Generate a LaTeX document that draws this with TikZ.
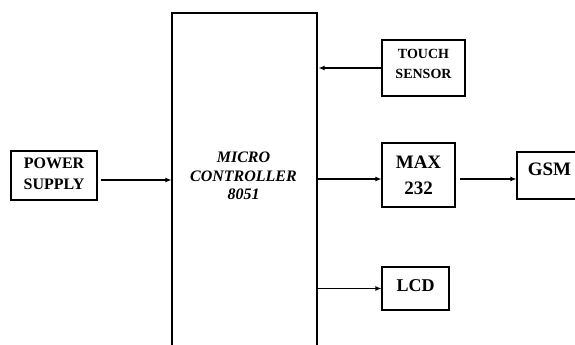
\documentclass[tikz,border=0pt]{standalone}
\usepackage{fontspec}
\setmainfont{Liberation Serif}
\usetikzlibrary{arrows.meta}
\begin{document}
\begin{tikzpicture}[x=1pt,y=-1pt,
  blk/.style={draw, line width=1.1pt, rectangle, inner sep=0pt, align=center, font=\bfseries},
  arr/.style={line width=1.1pt, -{Latex[length=6pt,width=5pt]}}]
\useasboundingbox (0,0) rectangle (575,345);
\clip (0,0) rectangle (575,345);
% blocks
\node[blk, minimum width=86pt, minimum height=49pt, font=\bfseries\fontsize{16}{21}\selectfont, text depth=4pt] (ps) at (54,175.5) {POWER\\SUPPLY};
\node[blk, minimum width=145pt, minimum height=360pt] (mcu) at (244.5,193) {};
\node[font=\bfseries\itshape\fontsize{16}{18.5}\selectfont, align=center] (mcutext) at (243.5,176) {MICRO\\CONTROLLER\\8051};
\node[blk, minimum width=83pt, minimum height=56pt, font=\bfseries\fontsize{14}{20}\selectfont, text depth=8pt] (touch) at (423.5,68) {TOUCH\\SENSOR};
\node[blk, minimum width=73pt, minimum height=64pt, font=\bfseries\fontsize{19}{26}\selectfont] (max) at (418.5,175) {MAX\\232};
\node[blk, minimum width=65pt, minimum height=47pt, font=\bfseries\fontsize{19}{24}\selectfont, text depth=13pt] (gsm) at (549.5,175.5) {GSM};
\node[blk, minimum width=67pt, minimum height=43pt, font=\bfseries\fontsize{18}{24}\selectfont, text depth=6pt] (lcd) at (415.5,288.5) {LCD};
% connectors
\draw[arr] ([shift={(3,4.5)}]ps.east) coordinate (a1) -- (a1 -| mcu.west);
\draw[arr] (touch.west) -- ([xshift=1pt]touch.west -| mcu.east);
\coordinate (m1) at ([shift={(0,4)}]max.west);
\draw[arr] (m1 -| mcu.east) -- (m1);
\draw[arr] ([shift={(4,4)}]max.east) coordinate (g1) -- (g1 -| gsm.west);
\draw[arr] (lcd.west -| mcu.east) -- (lcd.west);
\end{tikzpicture}
\end{document}
